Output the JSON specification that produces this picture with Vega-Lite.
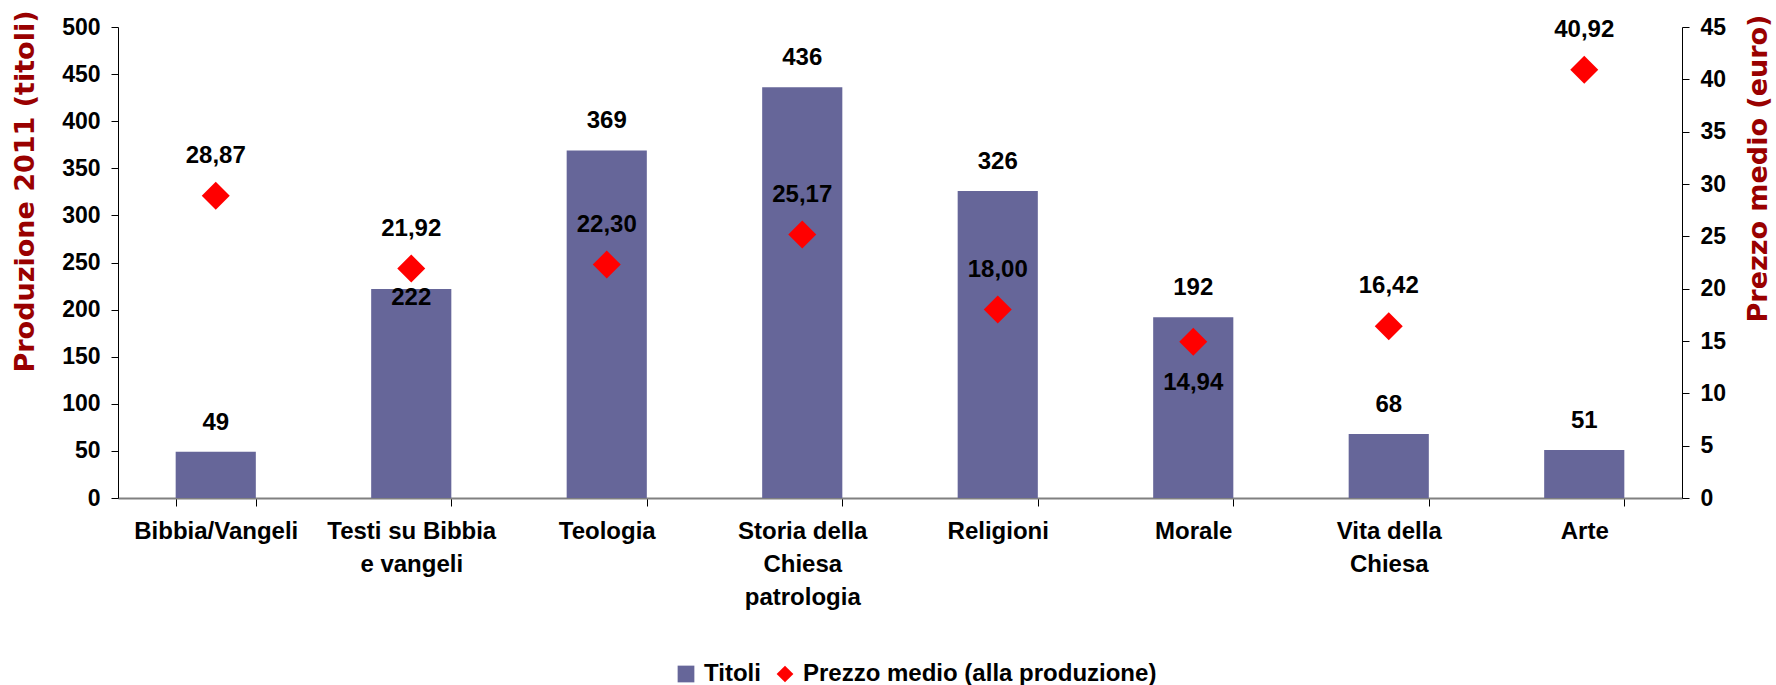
{
  "$schema": "https://vega.github.io/schema/vega-lite/v6.json",
  "width": 1564,
  "height": 471,
  "autosize": "none",
  "padding": {"left": 118, "top": 27, "right": 94, "bottom": 187},
  "background": "white",
  "config": {
    "view": {"stroke": null},
    "font": "Liberation Sans",
    "locale": {"number": {"decimal": ",", "thousands": ".", "grouping": [3], "currency": ["€", ""]}},
    "axis": {"grid": false}
  },
  "data": {
    "values": [
      {"categoria": "Bibbia/Vangeli", "titoli": 49, "prezzo": 28.87},
      {"categoria": "Testi su Bibbia\ne vangeli", "titoli": 222, "prezzo": 21.92},
      {"categoria": "Teologia", "titoli": 369, "prezzo": 22.30},
      {"categoria": "Storia della\nChiesa\npatrologia", "titoli": 436, "prezzo": 25.17},
      {"categoria": "Religioni", "titoli": 326, "prezzo": 18.00},
      {"categoria": "Morale", "titoli": 192, "prezzo": 14.94},
      {"categoria": "Vita della\nChiesa", "titoli": 68, "prezzo": 16.42},
      {"categoria": "Arte", "titoli": 51, "prezzo": 40.92}
    ]
  },
  "encoding": {
    "x": {
      "field": "categoria",
      "type": "nominal",
      "sort": null,
      "scale": {"paddingInner": 0.59, "paddingOuter": 0.295},
      "axis": {
        "title": null,
        "labelAngle": 0,
        "labelFont": "Liberation Sans",
        "labelFontSize": 24,
        "labelFontWeight": "bold",
        "labelColor": "black",
        "labelExpr": "split(datum.label, '\\n')",
        "labelLineHeight": 33,
        "labelPadding": 13,
        "labelBaseline": "top",
        "labelLimit": 0,
        "tickBand": "extent",
        "tickColor": "black",
        "tickSize": 8,
        "domainColor": "#808080",
        "domainWidth": 2
      }
    }
  },
  "layer": [
    {
      "encoding": {
        "y": {
          "field": "titoli",
          "type": "quantitative",
          "scale": {"domain": [0, 500]},
          "axis": {
            "orient": "left",
            "values": [0, 50, 100, 150, 200, 250, 300, 350, 400, 450, 500],
            "format": "d",
            "title": "Produzione 2011 (titoli)",
            "titleFont": "DejaVu Sans",
            "titleFontSize": 27,
            "titleFontWeight": "bold",
            "titleColor": "#990000",
            "titleAngle": 270,
            "titleX": -93,
            "titleY": 164,
            "titleAlign": "center",
            "titleBaseline": "middle",
            "labelFont": "Liberation Sans",
            "labelFontSize": 23,
            "labelFontWeight": "bold",
            "labelColor": "black",
            "labelPadding": 11,
            "tickColor": "black",
            "tickSize": 7,
            "domainColor": "black",
            "grid": false
          }
        }
      },
      "layer": [
        {
          "mark": {"type": "bar"},
          "encoding": {
            "color": {
              "datum": "Titoli",
              "type": "nominal",
              "scale": {"domain": ["Titoli", "Prezzo medio (alla produzione)"], "range": ["#666699", "#ff0000"]},
              "legend": {
                "title": null, "orient": "none", "legendX": 556, "legendY": 635, "direction": "horizontal",
                "labelFont": "Liberation Sans", "labelFontSize": 24, "labelFontWeight": "bold", "labelColor": "black",
                "labelLimit": 0, "symbolSize": 280, "columnPadding": 12, "labelOffset": 6, "symbolStrokeWidth": 0
              }
            }
          }
        },
        {
          "transform": [{"filter": "datum.titoli != 222"}],
          "mark": {"type": "text", "dy": -29, "fontSize": 24, "fontWeight": "bold", "color": "black", "baseline": "middle", "font": "Liberation Sans"},
          "encoding": {"text": {"field": "titoli", "type": "quantitative", "format": "d"}}
        },
        {
          "transform": [{"filter": "datum.titoli == 222"}],
          "mark": {"type": "text", "dy": 9, "fontSize": 24, "fontWeight": "bold", "color": "black", "baseline": "middle", "font": "Liberation Sans"},
          "encoding": {"text": {"field": "titoli", "type": "quantitative", "format": "d"}}
        }
      ]
    },
    {
      "encoding": {
        "y": {
          "field": "prezzo",
          "type": "quantitative",
          "scale": {"domain": [0, 45]},
          "axis": {
            "orient": "right",
            "values": [0, 5, 10, 15, 20, 25, 30, 35, 40, 45],
            "format": "d",
            "title": "Prezzo medio (euro)",
            "titleFont": "DejaVu Sans",
            "titleFontSize": 27,
            "titleFontWeight": "bold",
            "titleColor": "#990000",
            "titleAngle": 270,
            "titleX": 76,
            "titleY": 141,
            "titleAlign": "center",
            "titleBaseline": "middle",
            "labelFont": "Liberation Sans",
            "labelFontSize": 23,
            "labelFontWeight": "bold",
            "labelColor": "black",
            "labelPadding": 11,
            "tickColor": "black",
            "tickSize": 7,
            "domainColor": "black",
            "grid": false
          }
        }
      },
      "layer": [
        {
          "mark": {"type": "point", "filled": true, "size": 784, "opacity": 1},
          "encoding": {
            "color": {
              "datum": "Prezzo medio (alla produzione)",
              "type": "nominal",
              "scale": {"domain": ["Titoli", "Prezzo medio (alla produzione)"], "range": ["#666699", "#ff0000"]},
              "legend": {
                "title": null, "orient": "none", "legendX": 556, "legendY": 635, "direction": "horizontal",
                "labelFont": "Liberation Sans", "labelFontSize": 24, "labelFontWeight": "bold", "labelColor": "black",
                "labelLimit": 0, "symbolSize": 280, "columnPadding": 12, "labelOffset": 6, "symbolStrokeWidth": 0
              }
            },
            "shape": {
              "datum": "Prezzo medio (alla produzione)",
              "type": "nominal",
              "scale": {"domain": ["Titoli", "Prezzo medio (alla produzione)"], "range": ["square", "diamond"]},
              "legend": {
                "title": null, "orient": "none", "legendX": 556, "legendY": 635, "direction": "horizontal",
                "labelFont": "Liberation Sans", "labelFontSize": 24, "labelFontWeight": "bold", "labelColor": "black",
                "labelLimit": 0, "symbolSize": 280, "columnPadding": 12, "labelOffset": 6, "symbolStrokeWidth": 0
              }
            }
          }
        },
        {
          "transform": [{"filter": "datum.prezzo != 14.94"}],
          "mark": {"type": "text", "dy": -40, "fontSize": 24, "fontWeight": "bold", "color": "black", "baseline": "middle", "font": "Liberation Sans"},
          "encoding": {"text": {"field": "prezzo", "type": "quantitative", "format": ".2f"}}
        },
        {
          "transform": [{"filter": "datum.prezzo == 14.94"}],
          "mark": {"type": "text", "dy": 41, "fontSize": 24, "fontWeight": "bold", "color": "black", "baseline": "middle", "font": "Liberation Sans"},
          "encoding": {"text": {"field": "prezzo", "type": "quantitative", "format": ".2f"}}
        }
      ]
    }
  ],
  "resolve": {"scale": {"y": "independent"}}
}
